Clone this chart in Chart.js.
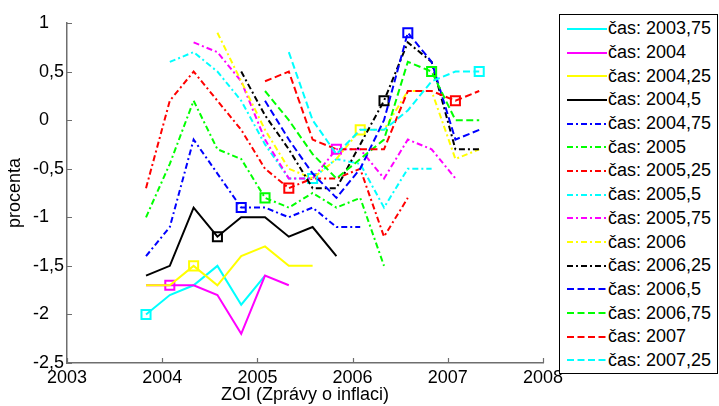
<!DOCTYPE html>
<html>
<head>
<meta charset="utf-8">
<script src="https://cdn.jsdelivr.net/npm/chart.js@4.4.1/dist/chart.umd.min.js"></script>
<style>
    html, body { margin: 0; padding: 0; background: #fff; }
    #wrap { position: relative; width: 719px; height: 406px; }
    #legend {
        position: absolute; left: 559px; top: 14px;
        width: 157px; height: 356px; padding-top: 2px;
        border: 1px solid #000; background: #fff;
        font-family: "Liberation Sans", Arial, sans-serif; font-size: 18px; color: #000;
    }
    .row { height: 23.7px; display: flex; align-items: center; white-space: nowrap; }
    .row svg { margin-left: 7px; margin-right: 1px; flex: none; }
</style>
</head>
<body>
<div id="wrap">
    <canvas id="gapChart" width="719" height="406"></canvas>
    <div id="legend"></div>
</div>
<script>
// Report dates (ZOI) on the x axis
const zoiDates = [2003.83, 2004.08, 2004.33, 2004.58, 2004.83, 2005.08, 2005.33, 2005.58,
                  2005.83, 2006.08, 2006.33, 2006.58, 2006.83, 2007.08, 2007.33];

// Vintage ("čas") of each line
const vintageTimes = [2003.75, 2004, 2004.25, 2004.5, 2004.75, 2005, 2005.25, 2005.5,
                      2005.75, 2006, 2006.25, 2006.5, 2006.75, 2007, 2007.25];
const vintageLabels = ["2003,75", "2004", "2004,25", "2004,5", "2004,75", "2005", "2005,25", "2005,5",
                       "2005,75", "2006", "2006,25", "2006,5", "2006,75", "2007", "2007,25"];

// Values per vintage, one per report (null = not published)
const cas2003_75 = [-2.0, -1.8, -1.7, -1.5, -1.9, -1.6, null, null, null, null, null, null, null, null, null];
const cas2004    = [-1.7, -1.7, -1.7, -1.8, -2.2, -1.6, -1.7, null, null, null, null, null, null, null, null];
const cas2004_25 = [-1.7, -1.7, -1.5, -1.7, -1.4, -1.3, -1.5, -1.5, null, null, null, null, null, null, null];
const cas2004_5  = [-1.6, -1.5, -0.9, -1.2, -1.0, -1.0, -1.2, -1.1, -1.4, null, null, null, null, null, null];
const cas2004_75 = [-1.4, -1.1, -0.2, -0.55, -0.9, -0.9, -1.0, -0.9, -1.1, -1.1, null, null, null, null, null];
const cas2005    = [-1.0, -0.45, 0.2, -0.3, -0.4, -0.8, -0.9, -0.75, -0.9, -0.8, -1.5, null, null, null, null];
const cas2005_25 = [-0.7, 0.2, 0.5, 0.2, -0.1, -0.5, -0.7, -0.6, -0.6, -0.5, -1.2, -0.8, null, null, null];
const cas2005_5  = [null, 0.6, 0.7, 0.5, 0.2, -0.25, -0.6, -0.6, -0.4, -0.45, -0.9, -0.5, -0.5, null, null];
const cas2005_75 = [null, null, 0.8, 0.7, 0.4, -0.2, -0.6, -0.6, -0.3, -0.3, -0.6, -0.2, -0.3, -0.6, null];
const cas2006    = [null, null, null, 0.9, 0.4, -0.1, -0.5, -0.6, -0.4, -0.1, -0.1, 0.3, 0.3, -0.4, -0.3];
const cas2006_25 = [null, null, null, null, 0.5, 0.05, -0.3, -0.7, -0.7, -0.25, 0.2, 0.8, 0.6, -0.3, -0.3];
const cas2006_5  = [null, null, null, null, null, 0.2, -0.2, -0.55, -0.8, -0.5, 0.0, 0.9, 0.6, -0.2, -0.1];
const cas2006_75 = [null, null, null, null, null, 0.3, 0.0, -0.35, -0.6, -0.4, -0.2, 0.6, 0.5, 0.0, 0.0];
const cas2007    = [null, null, null, null, null, 0.4, 0.5, -0.2, -0.3, -0.3, -0.3, 0.3, 0.3, 0.2, 0.3];
const cas2007_25 = [null, null, null, null, null, null, 0.7, 0.0, -0.35, -0.1, -0.1, 0.1, 0.4, 0.5, 0.5];

const seriesValues = [cas2003_75, cas2004, cas2004_25, cas2004_5, cas2004_75, cas2005, cas2005_25, cas2005_5,
                      cas2005_75, cas2006, cas2006_25, cas2006_5, cas2006_75, cas2007, cas2007_25];

// Axis ticks
const xTicks = [2003, 2004, 2005, 2006, 2007, 2008];
const yTicks = [-2.5, -2, -1.5, -1, -0.5, 0, 0.5, 1];

// Styles (matlab-like colour cycle and line styles)
const colorCycle = ["#00FFFF", "#FF00FF", "#FFFF00", "#000000", "#0000FF", "#00FF00", "#FF0000"];
const dashStyles = {
    solid: [],
    dashdot: [6, 3, 2, 3],
    dashed: [7, 3.5]
};
const styleOf = i => i < 4 ? "solid" : (i < 11 ? "dashdot" : "dashed");
const axisColor = "#6e6e6e";
const FONT = "'Liberation Sans', Arial, sans-serif";

// Build datasets
const datasets = seriesValues.map((vals, i) => {
    const points = [];
    vals.forEach((v, k) => { if (v !== null) points.push({ x: zoiDates[k], y: v }); });
    const markerX = zoiDates.find(d => d > vintageTimes[i]);
    const color = colorCycle[i % colorCycle.length];
    return {
        label: "čas: " + vintageLabels[i],
        data: points,
        borderColor: color,
        backgroundColor: color,
        borderWidth: 2,
        borderDash: dashStyles[styleOf(i)],
        tension: 0,
        fill: false,
        order: seriesValues.length - i,
        pointStyle: "rect",
        pointRadius: ctx => (ctx.raw && ctx.raw.x === markerX) ? 6.4 : 0,
        pointBorderColor: color,
        pointBackgroundColor: "rgba(255,255,255,0)",
        pointBorderWidth: 2,
        pointHoverRadius: 0
    };
});

// Inward tick marks like the original figure
const inwardTicks = {
    id: "inwardTicks",
    afterDatasetsDraw(chart) {
        const { ctx, scales: { x, y } } = chart;
        ctx.save();
        ctx.strokeStyle = axisColor;
        ctx.lineWidth = 1.2;
        ctx.beginPath();
        x.ticks.forEach(t => {
            const px = Math.round(x.getPixelForValue(t.value)) + 0.5;
            ctx.moveTo(px, x.top);
            ctx.lineTo(px, x.top - 5);
        });
        y.ticks.forEach(t => {
            const py = Math.round(y.getPixelForValue(t.value)) + 0.5;
            ctx.moveTo(y.right, py);
            ctx.lineTo(y.right + 5, py);
        });
        ctx.stroke();
        ctx.restore();
    }
};

const chart = new Chart(document.getElementById("gapChart"), {
    type: "line",
    data: { datasets },
    plugins: [inwardTicks],
    options: {
        responsive: false,
        animation: false,
        layout: { padding: { left: 0, top: 23, right: 176, bottom: 0 } },
        plugins: { legend: { display: false }, tooltip: { enabled: false } },
        scales: {
            x: {
                type: "linear",
                min: xTicks[0],
                max: xTicks[xTicks.length - 1],
                afterBuildTicks: s => { s.ticks = xTicks.map(v => ({ value: v })); },
                afterFit: s => { s.height = 43; },
                grid: { drawOnChartArea: false, drawTicks: false },
                border: { color: axisColor, width: 1.5 },
                ticks: { color: "#000", font: { family: FONT, size: 18 }, padding: 4, maxRotation: 0,
                         callback: v => String(v) },
                title: { display: true, text: "ZOI (Zprávy o inflaci)", color: "#000",
                         font: { family: FONT, size: 18 }, padding: { top: 0, bottom: 0 } }
            },
            y: {
                min: yTicks[0],
                max: yTicks[yTicks.length - 1],
                afterBuildTicks: s => { s.ticks = yTicks.map(v => ({ value: v })); },
                afterFit: s => { s.width = 67; },
                grid: { drawOnChartArea: false, drawTicks: false },
                border: { color: axisColor, width: 1.5 },
                ticks: {
                    color: "#000", font: { family: FONT, size: 18 }, padding: 3,
                    // decimal-aligned labels: pad whole numbers to the width of ",5"
                    callback: v => Number.isInteger(v) ? String(v) + "   " : String(v).replace(".", ",")
                },
                title: { display: true, text: "procenta", color: "#000",
                         font: { family: FONT, size: 18 }, padding: { top: 4, bottom: 0 } }
            }
        }
    }
});

// Legend box (right side)
const legendEl = document.getElementById("legend");
chart.data.datasets.forEach(ds => {
    const row = document.createElement("div");
    row.className = "row";
    const dash = ds.borderDash.length ? ds.borderDash.join(" ") : "none";
    row.innerHTML =
        `<svg width="40" height="6"><line x1="0" y1="3" x2="40" y2="3" stroke="${ds.borderColor}" ` +
        `stroke-width="2" stroke-dasharray="${dash}"/></svg><span>${ds.label}</span>`;
    legendEl.appendChild(row);
});
</script>
</body>
</html>
